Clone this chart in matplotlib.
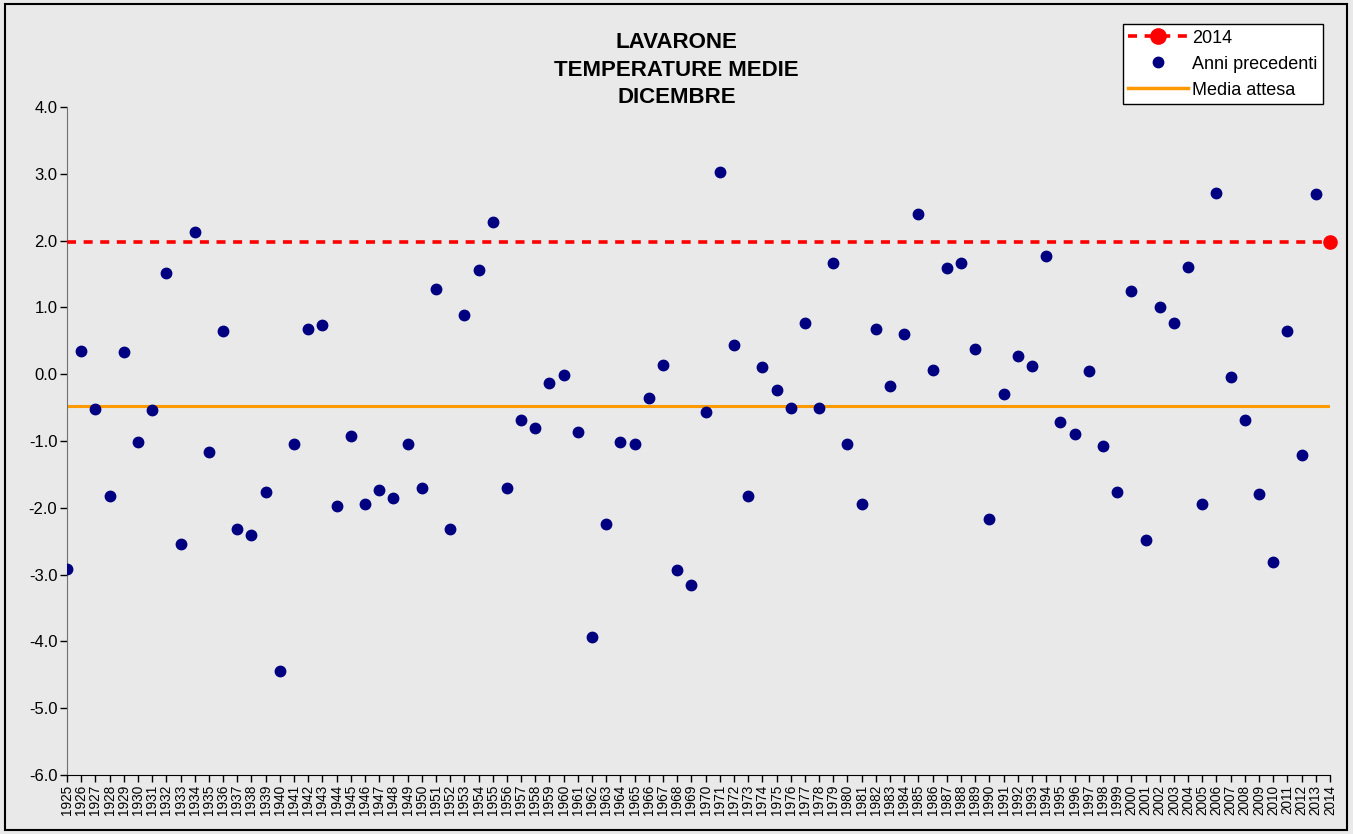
import numpy as np
import matplotlib
matplotlib.use("Agg")
import matplotlib.pyplot as plt
from matplotlib.lines import Line2D
from matplotlib.patches import Rectangle

plt.rcParams['font.family'] = ['Liberation Sans', 'DejaVu Sans']
plt.rcParams['axes.unicode_minus'] = False

# mean December temperature, years 1925-2013
years = list(range(1925, 2014))
temps = [-2.91, 0.35, -0.52, -1.83, 0.34, -1.02, -0.54, 1.52, -2.54, 2.13,
         -1.17, 0.64, -2.31, -2.40, -1.76, -4.45, -1.04, 0.68, 0.74, -1.97,
         -0.92, -1.95, -1.73, -1.85, -1.05, -1.70, 1.27, -2.31, 0.89, 1.56,
         2.28, -1.70, -0.69, -0.80, -0.13, -0.01, -0.86, -3.94, -2.24, -1.01,
         -1.05, -0.35, 0.14, -2.93, -3.15, -0.57, 3.03, 0.43, -1.83, 0.11,
         -0.23, -0.50, 0.76, -0.50, 1.67, -1.05, -1.95, 0.68, -0.17, 0.60,
         2.40, 0.07, 1.59, 1.67, 0.38, -2.16, -0.29, 0.28, 0.13, 1.77,
         -0.72, -0.90, 0.05, -1.08, -1.77, 1.24, -2.48, 1.01, 0.77, 1.61,
         -1.94, 2.72, -0.04, -0.68, -1.79, -2.81, 0.65, -1.21, 2.70]
year_now = 2014
temp_now = 1.98
media_attesa = -0.47

all_years = years + [year_now]
bg = '#e9e9e9'

fig = plt.figure(figsize=(13.53, 8.34), dpi=100, facecolor=bg)
ax = fig.add_axes([0.0495, 0.0707, 0.9335, 0.801])
ax.set_facecolor(bg)

# expected mean
ax.plot([all_years[0], all_years[-1]], [media_attesa, media_attesa],
        color='#ff9900', lw=2.2, zorder=2)
# 2014 reference line + point
ax.plot([all_years[0], year_now], [temp_now, temp_now], color='#ff0000',
        lw=2.6, dashes=(2.5, 2.1), zorder=3)
ax.plot([year_now], [temp_now], 'o', color='#ff0000', ms=9.5, zorder=5,
        clip_on=False)
# previous years
ax.plot(years, temps, 'o', color='#000080', ms=7.5, ls='none', zorder=4)

ax.set_xlim(1925, 2014)
ax.set_ylim(-6, 4)
ax.set_yticks(np.arange(-6, 4.1, 1))
ax.set_yticklabels([f'{v:.1f}' for v in np.arange(-6, 4.1, 1)], fontsize=12)
ax.set_xticks(all_years)
ax.set_xticklabels([str(y) for y in all_years], rotation=90, fontsize=9.8)
ax.tick_params(axis='both', direction='out', length=5, width=1, pad=2)
for s in ['top', 'right']:
    ax.spines[s].set_visible(False)
ax.spines['left'].set_color('#707070')
ax.spines['bottom'].set_color('black')

fig.text(0.5, 0.916, 'LAVARONE\nTEMPERATURE MEDIE\nDICEMBRE', ha='center',
         va='center', fontsize=16, fontweight='bold', linespacing=1.4)

handles = [
    Line2D([], [], color='#ff0000', lw=2.6, dashes=(2.5, 2.1), marker='o',
           ms=11, markerfacecolor='#ff0000', markeredgecolor='#ff0000'),
    Line2D([], [], color='#000080', marker='o', ls='none', ms=7.5),
    Line2D([], [], color='#ff9900', lw=2.5),
]
leg = fig.legend(handles, ['2014', 'Anni precedenti', 'Media attesa'],
                 loc='upper right', bbox_to_anchor=(0.978, 0.971),
                 fontsize=13, frameon=True, fancybox=False,
                 handlelength=3.3, handletextpad=0.25, labelspacing=0.5,
                 borderpad=0.3, borderaxespad=0)
leg.get_frame().set_edgecolor('black')
leg.get_frame().set_linewidth(1.0)
leg.get_frame().set_facecolor('white')
leg.get_frame().set_alpha(1)

fig.patches.append(Rectangle((5 / 1353, 4 / 834), 1342 / 1353, 826 / 834,
                             transform=fig.transFigure, fill=False,
                             edgecolor='black', lw=1.5))

fig.savefig('out.png', dpi=100, facecolor=bg)
